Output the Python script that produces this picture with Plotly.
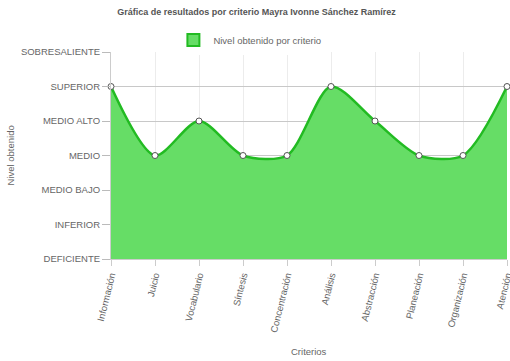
import plotly.graph_objects as go

categories = ["Información", "Juicio", "Vocabulario", "Síntesis", "Concentración",
              "Análisis", "Abstracción", "Planeación", "Organización", "Atención"]
values = [6, 4, 5, 4, 4, 6, 5, 4, 4, 6]
level_vals = [1, 2, 3, 4, 5, 6, 7]
level_text = ["DEFICIENTE", "INFERIOR", "MEDIO BAJO", "MEDIO", "MEDIO ALTO", "SUPERIOR", "SOBRESALIENTE"]
series_name = "Nivel obtenido por criterio"
x_title = "Criterios"
y_title = "Nivel obtenido"

fill_col = "rgba(102,221,102,1)"
line_col = "#22bb22"
font_family = "Liberation Sans, Arial, sans-serif"

fig = go.Figure()
fig.add_trace(go.Scatter(
    x=categories, y=values, mode="lines+markers",
    line=dict(color=line_col, width=2.5, shape="spline", smoothing=0.8),
    fill="tozeroy", fillcolor=fill_col,
    marker=dict(size=6, color="white", line=dict(color="#555", width=1)),
    showlegend=False, name=series_name, cliponaxis=False,
))
fig.add_trace(go.Bar(
    x=[None], y=[None], name=series_name,
    marker=dict(color=fill_col, line=dict(color=line_col, width=2)),
    showlegend=True,
))

fig.update_layout(
    width=510, height=361,
    margin=dict(l=111, r=3, t=52, b=102, autoexpand=False),
    paper_bgcolor="white", plot_bgcolor="white",
    font=dict(family=font_family, size=9.5, color="#666"),
    title=dict(text="<b>Gráfica de resultados por criterio Mayra Ivonne Sánchez Ramírez</b>",
               x=0.503, xanchor="center", xref="container", y=0.967, yanchor="middle",
               font=dict(size=9, color="#555")),
    legend=dict(orientation="h", x=0.49, xanchor="center", xref="container",
                y=0.889, yanchor="middle", yref="container",
                font=dict(size=9.5, color="#666"), itemwidth=30),
    xaxis=dict(
        type="category", range=[0, 9], automargin=False,
        tickangle=-76, showgrid=True, gridcolor="#ececec", gridwidth=1,
        ticks="outside", ticklen=6, tickcolor="#ccc",
        showline=True, linecolor="#ccc",
        tickfont=dict(size=9.5, color="#666"),
    ),
    yaxis=dict(
        range=[1, 7], tickvals=level_vals, ticktext=level_text, automargin=False,
        showgrid=True, gridcolor="#c8c8c8", gridwidth=1,
        ticks="outside", ticklen=8, tickcolor="#bbb",
        showline=True, linecolor="#ccc", zeroline=False,
        tickfont=dict(size=9.5, color="#666"),
    ),
    annotations=[
        dict(text=x_title, xref="paper", yref="paper", x=0.5, y=0, yshift=-92,
             xanchor="center", yanchor="middle", showarrow=False,
             font=dict(size=9.5, color="#666")),
        dict(text=y_title, xref="paper", yref="paper", x=0, y=0.5, xshift=-101,
             xanchor="center", yanchor="middle", textangle=-90, showarrow=False,
             font=dict(size=9.5, color="#666")),
    ],
)

fig.write_html("out.html", config={"displayModeBar": False},
               post_script="document.body.style.margin='0';")
